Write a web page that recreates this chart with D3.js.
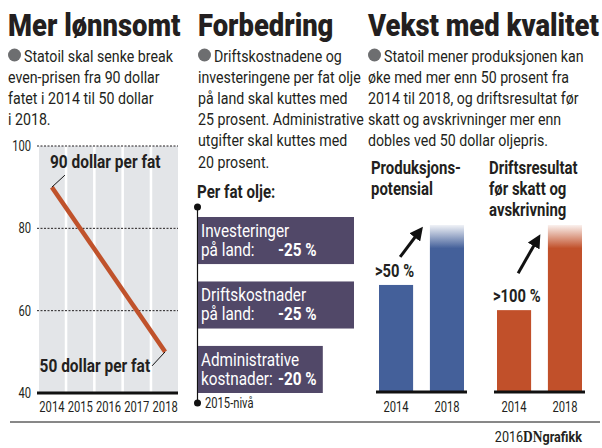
<!DOCTYPE html>
<html>
<head>
<meta charset="utf-8">
<script src="https://cdn.jsdelivr.net/npm/d3@7"></script>
<style>
  body { margin: 0; background: #fff; }
  svg { display: block; }
  text { font-family: Roboto, "Noto Sans", sans-serif; fill: #231f20; }
  .fet { font-weight: bold; }
  .tittel { font-weight: 900; }
</style>
</head>
<body>
<svg id="grafikk" width="602" height="448"></svg>
<script>
"use strict";

// ---- data ----
var aar = ["2014", "2015", "2016", "2017", "2018"];
var breakevenAar = ["2014", "2018"];
var breakevenPris = [90, 50];          // dollar per fat
var prisTicks = [40, 60, 80, 100];

var kuttNavn = [["Investeringer", "på land:"], ["Driftskostnader", "på land:"], ["Administrative", "kostnader:"]];
var kuttProsent = [25, 25, 20];

var vekstAar = ["2014", "2018"];
var produksjon = [100, 156];           // indeks, 2014 = 100
var driftsresultat = [100, 204];       // indeks, 2014 = 100

var titler = ["Mer lønnsomt", "Forbedring", "Vekst med kvalitet"];
var ingresser = [
    ["Statoil skal senke break", "even-prisen fra 90 dollar", "fatet i 2014 til 50 dollar", "i 2018."],
    ["Driftskostnadene og", "investeringene per fat olje", "på land skal kuttes med", "25 prosent. Administrative", "utgifter skal kuttes med", "20 prosent."],
    ["Statoil mener produksjonen kan", "øke med mer enn 50 prosent fra", "2014 til 2018, og driftsresultat før", "skatt og avskrivninger mer enn", "dobles ved 50 dollar oljepris."]
];

var svg = d3.select("#grafikk");
var kolonneX = [8, 198, 368];
var SMAL = 0.84;   // ingen condensed-font tilgjengelig, så teksten presses sammen

// tekst presset sammen horisontalt rundt ankerpunktet
function plass(x, y, k) {
    return "translate(" + x + "," + y + ") scale(" + (k || SMAL) + ",1)";
}
function skriv(forelder, x, y, innhold, storrelse, k) {
    return forelder.append("text").attr("transform", plass(x, y, k))
        .style("font-size", storrelse + "px").text(innhold);
}

// ---- titler og ingresser ----
titler.forEach(function(t, i) {
    skriv(svg, kolonneX[i], 36, t, 31.5, 0.87).attr("class", "tittel");
    svg.append("circle").attr("cx", kolonneX[i] + 6.5).attr("cy", 55).attr("r", 6.5).style("fill", "#6d6e70");
    ingresser[i].forEach(function(linje, j) {
        skriv(svg, j === 0 ? kolonneX[i] + 16 : kolonneX[i], 61.5 + j * 21.2, linje, 17, 0.835);
    });
});

// ---- venstre: break even ----
var x1 = d3.scaleBand().domain(aar).range([39, 178]).paddingInner(0.09);
var y1 = d3.scaleLinear().domain([40, 100]).range([393, 146]);

svg.append("g").selectAll("rect").data(aar).enter().append("rect")
    .attr("x", function(d) { return x1(d); })
    .attr("y", y1(100))
    .attr("width", x1.bandwidth())
    .attr("height", y1(40) - y1(100))
    .style("fill", "#e3e5e8");

svg.append("g").selectAll("line").data(prisTicks.filter(function(d) { return d > 40; })).enter().append("line")
    .attr("x1", 37).attr("x2", 178)
    .attr("y1", function(d) { return y1(d); })
    .attr("y2", function(d) { return y1(d); })
    .style("stroke", "#231f20").style("stroke-width", 1).style("stroke-dasharray", "2,1.5");

svg.append("line").attr("x1", 37).attr("x2", 178).attr("y1", y1(40)).attr("y2", y1(40))
    .style("stroke", "#111").style("stroke-width", 3);

svg.append("g").selectAll("text").data(prisTicks).enter().append("text")
    .attr("transform", function(d) { return plass(31, y1(d) + 5, 0.8); })
    .attr("text-anchor", "end").style("font-size", "14px")
    .text(function(d) { return d; });

svg.append("g").selectAll("text").data(aar).enter().append("text")
    .attr("transform", function(d) { return plass(x1(d) + x1.bandwidth() / 2, 412, 0.8); })
    .attr("text-anchor", "middle").style("font-size", "14px")
    .text(function(d) { return d; });

var punkter = breakevenAar.map(function(a, i) {
    return [x1(a) + x1.bandwidth() / 2, y1(breakevenPris[i])];
});
svg.append("path").attr("d", d3.line()(punkter))
    .style("fill", "none").style("stroke", "#c0522b").style("stroke-width", 4.5);

// merkelapper med strek
var p0 = punkter[0], p1 = punkter[1];
svg.append("line").attr("x1", p0[0]).attr("y1", p0[1]).attr("x2", p0[0] + 13).attr("y2", p0[1] - 12)
    .style("stroke", "#111").style("stroke-width", 1);
skriv(svg, p0[0] - 2, p0[1] - 19, breakevenPris[0] + " dollar per fat", 18, 0.86).attr("class", "fet");
svg.append("line").attr("x1", p1[0]).attr("y1", p1[1]).attr("x2", p1[0] - 13).attr("y2", p1[1] + 14)
    .style("stroke", "#111").style("stroke-width", 1);
skriv(svg, p1[0] - 15, p1[1] + 20, breakevenPris[1] + " dollar per fat", 18, 0.86)
    .attr("class", "fet").attr("text-anchor", "end");

// ---- midten: kutt ----
var x2 = d3.scaleLinear().domain([0, 25]).range([198, 354]);
var y2 = d3.scaleBand().domain(d3.range(kuttProsent.length)).range([217, 393]).paddingInner(0.27);

skriv(svg, 197, 198, "Per fat olje:", 18, SMAL).attr("class", "fet");
svg.append("line").attr("x1", 197.5).attr("x2", 197.5).attr("y1", 207).attr("y2", 403)
    .style("stroke", "#111").style("stroke-width", 1.2);
svg.append("circle").attr("cx", 197.5).attr("cy", 207).attr("r", 3.5).style("fill", "#111");
svg.append("circle").attr("cx", 197.5).attr("cy", 403).attr("r", 3.5).style("fill", "#111");
skriv(svg, 205, 408, "2015-nivå", 14, 0.8);

var kutt = svg.append("g").selectAll("g").data(kuttProsent).enter().append("g");
kutt.append("rect")
    .attr("x", x2(0))
    .attr("y", function(d, i) { return y2(i); })
    .attr("width", function(d) { return x2(d) - x2(0); })
    .attr("height", y2.bandwidth())
    .style("fill", "#514868");
kutt.append("text")
    .attr("transform", function(d, i) { return plass(x2(0) + 3, y2(i) + 20, 0.85); })
    .style("font-size", "18px").style("fill", "#fff")
    .text(function(d, i) { return kuttNavn[i][0]; });
kutt.append("text")
    .attr("transform", function(d, i) { return plass(x2(0) + 3, y2(i) + 39, 0.85); })
    .style("font-size", "18px").style("fill", "#fff")
    .text(function(d, i) { return kuttNavn[i][1]; });
kutt.append("text").attr("class", "fet")
    .attr("transform", function(d, i) { return plass(278, y2(i) + 39, 0.85); })
    .style("font-size", "18px").style("fill", "#fff")
    .text(function(d) { return "-" + d + " %"; });

// ---- høyre: vekst ----
var defs = svg.append("defs");
function lagToning(id, farge) {
    var g = defs.append("linearGradient").attr("id", id).attr("x1", 0).attr("x2", 0).attr("y1", 0).attr("y2", 1);
    g.append("stop").attr("offset", "0%").attr("stop-color", farge).attr("stop-opacity", 0.08);
    g.append("stop").attr("offset", "14%").attr("stop-color", farge).attr("stop-opacity", 1);
    g.append("stop").attr("offset", "100%").attr("stop-color", farge).attr("stop-opacity", 1);
}
lagToning("toningBla", "#44609a");
lagToning("toningOransje", "#c1502a");

defs.append("marker").attr("id", "pil").attr("viewBox", "0 0 10 10").attr("refX", 6).attr("refY", 5)
    .attr("markerWidth", 4.5).attr("markerHeight", 4.5).attr("orient", "auto")
    .append("path").attr("d", "M0,0 L10,5 L0,10 z").style("fill", "#111");

function vekstPanel(verdier, venstre, hoyre, farge, toning, overskrift, etikett, pilStart, pilSlutt) {
    var x = d3.scaleBand().domain(vekstAar).range([venstre, hoyre]).paddingInner(0.33);
    var y = d3.scaleLinear().domain([0, d3.max(verdier)]).range([392, 225]);

    overskrift.forEach(function(l, i) {
        skriv(svg, venstre - 8, 174 + i * 21, l, 18, 0.83).attr("class", "fet");
    });

    svg.append("g").selectAll("rect").data(verdier).enter().append("rect")
        .attr("x", function(d, i) { return x(vekstAar[i]); })
        .attr("y", function(d) { return y(d); })
        .attr("width", x.bandwidth())
        .attr("height", function(d) { return y(0) - y(d); })
        .style("fill", function(d, i) { return i === 0 ? farge : "url(#" + toning + ")"; });

    svg.append("line").attr("x1", venstre - 3).attr("x2", hoyre + 3).attr("y1", y(0)).attr("y2", y(0))
        .style("stroke", "#111").style("stroke-width", 3);

    svg.append("g").selectAll("text").data(vekstAar).enter().append("text")
        .attr("transform", function(d) { return plass(x(d) + x.bandwidth() / 2, 412, 0.8); })
        .attr("text-anchor", "middle").style("font-size", "14px")
        .text(function(d) { return d; });

    var topp = y(verdier[0]);
    skriv(svg, venstre - 4, topp - 8, etikett, 18, 0.82).attr("class", "fet");

    svg.append("line")
        .attr("x1", x(vekstAar[0]) + x.bandwidth() * 0.62).attr("y1", topp - pilStart)
        .attr("x2", x(vekstAar[1]) - x.bandwidth() * 0.3).attr("y2", y(verdier[1]) + pilSlutt)
        .style("stroke", "#111").style("stroke-width", 3).attr("marker-end", "url(#pil)");
}

vekstPanel(produksjon, 379, 464, "#44609a", "toningBla", ["Produksjons-", "potensial"], ">50 %", 28, 6);
vekstPanel(driftsresultat, 497, 582, "#c1502a", "toningOransje", ["Driftsresultat", "før skatt og", "avskrivning"], ">100 %", 37, 14);

// ---- bunn ----
svg.append("line").attr("x1", 10).attr("x2", 600).attr("y1", 422).attr("y2", 422)
    .style("stroke", "#111").style("stroke-width", 1);
var kilde = svg.append("text").attr("transform", plass(582, 442, 0.84)).attr("text-anchor", "end").style("font-size", "15px");
kilde.append("tspan").text("2016");
kilde.append("tspan").style("font-family", "'Liberation Serif', serif").style("font-weight", "bold").style("font-size", "16px").text("DN");
kilde.append("tspan").style("font-weight", "bold").text("grafikk");
</script>
</body>
</html>
